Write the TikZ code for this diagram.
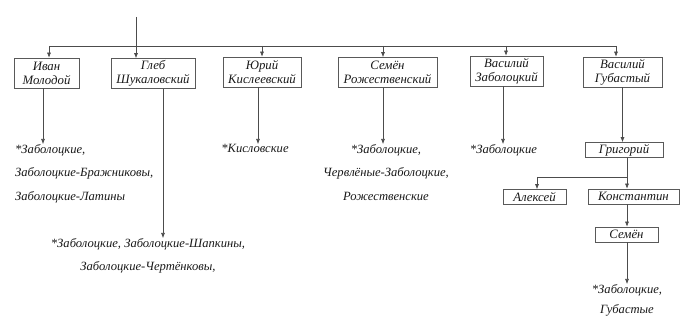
\documentclass[tikz,border=0pt]{standalone}
\usepackage{fontspec}
\setmainfont{Liberation Serif}
\usetikzlibrary{arrows.meta}
\begin{document}
\begin{tikzpicture}[x=1pt,y=-1pt,
  ln/.style={draw=black!70, line width=0.6pt},
  arr/.style={ln, -{Latex[length=5pt,width=4pt]}},
  box/.style={draw=black!65, line width=0.6pt, inner sep=0.5pt, align=center,
    text=black!90, font=\itshape\fontsize{12.8}{14}\selectfont},
  boxtwo/.style={box, minimum height=30pt},
  boxone/.style={box, minimum height=15pt},
  lst/.style={inner sep=0pt, font=\itshape\fontsize{12.6}{23.5}\selectfont, text=black!90}
]
\useasboundingbox (0,0) rectangle (681,320);

% first generation boxes
\node[boxtwo, minimum width=65pt] (ivan) at (46.5,73) {Иван\\Молодой};
\node[boxtwo, minimum width=84pt] (gleb) at (153,73.5) {Глеб\\Шукаловский};
\node[boxtwo, minimum width=78pt] (yuri) at (262,72) {Юрий\\Кислеевский};
\node[boxtwo, minimum width=99pt] (semen) at (387.5,72.5) {Семён\\Рожественский};
\node[boxtwo, minimum width=73pt] (vasz) at (506.5,71) {Василий\\Заболоцкий};
\node[boxtwo, minimum width=79pt] (vasg) at (622.5,72) {Василий\\Губастый};

% top line and bus
\coordinate (top) at (136,17);
\coordinate (busL) at (49,46);
\coordinate (busR) at (616,46);
\coordinate (bY) at (262,46);
\coordinate (bS) at (383,46);
\coordinate (bZ) at (506,46);
\draw[ln] (busL) -- (busR);
\draw[arr] (top) -- (top |- gleb.north);
\draw[arr] (busL) -- (busL |- ivan.north);
\draw[arr] (bY) -- (bY |- yuri.north);
\draw[arr] (bS) -- (bS |- semen.north);
\draw[arr] (bZ) -- (bZ |- vasz.north);
\draw[arr] (busR) -- (busR |- vasg.north);

% descendant lists
\node[lst, anchor=north west, align=left] (ivanT) at (15,144)
  {*Заболоцкие,\\Заболоцкие-Бражниковы,\\Заболоцкие-Латины};
\node[lst, anchor=north, align=center, font=\itshape\fontsize{12.6}{23}\selectfont] (glebT) at (148,238)
  {*Заболоцкие, Заболоцкие-Шапкины,\\Заболоцкие-Чертёнковы,};
\node[lst, anchor=north] (yuriT) at (255,144) {*Кисловские};
\node[lst, anchor=north, align=center] (semenT) at (386,144)
  {*Заболоцкие,\\Червлёные-Заболоцкие,\\Рожественские};
\node[lst, anchor=north] (vaszT) at (503.5,144) {*Заболоцкие};

\draw[arr] ([xshift=-3.5pt]ivan.south) -- ([xshift=-3.5pt]ivan.south |- ivanT.north);
\draw[arr] ([xshift=10pt]gleb.south) -- ([xshift=10pt]gleb.south |- glebT.north);
\draw[arr] ([xshift=-4pt]yuri.south) -- ([xshift=-4pt]yuri.south |- yuriT.north);
\draw[arr] ([xshift=-4.5pt]semen.south) -- ([xshift=-4.5pt]semen.south |- semenT.north);
\draw[arr] ([xshift=-3.5pt]vasz.south) -- ([xshift=-3.5pt]vasz.south |- vaszT.north);

% Gubasty branch
\node[boxone, minimum width=78pt] (grig) at (624,150) {Григорий};
\node[boxone, minimum width=63pt] (alex) at (534.5,197) {Алексей};
\node[boxone, minimum width=91pt] (kons) at (633.5,196.5) {Константин};
\node[boxone, minimum width=63pt] (sem2) at (626.5,234.5) {Семён};
\node[lst, anchor=north, align=center, font=\itshape\fontsize{12.6}{20}\selectfont] (gubT) at (627,284)
  {*Заболоцкие,\\Губастые};

\draw[arr] (vasg.south) -- (vasg.south |- grig.north);
\coordinate (brR) at (627,177);
\coordinate (brL) at (537,177);
\draw[ln] (grig.south -| brR) -- (brR) -- (brL);
\draw[arr] (brL) -- (brL |- alex.north);
\draw[arr] (brR) -- (brR |- kons.north);
\draw[arr] (kons.south -| brR) -- (brR |- sem2.north);
\draw[arr] (sem2.south -| brR) -- (brR |- gubT.north);
\end{tikzpicture}
\end{document}
